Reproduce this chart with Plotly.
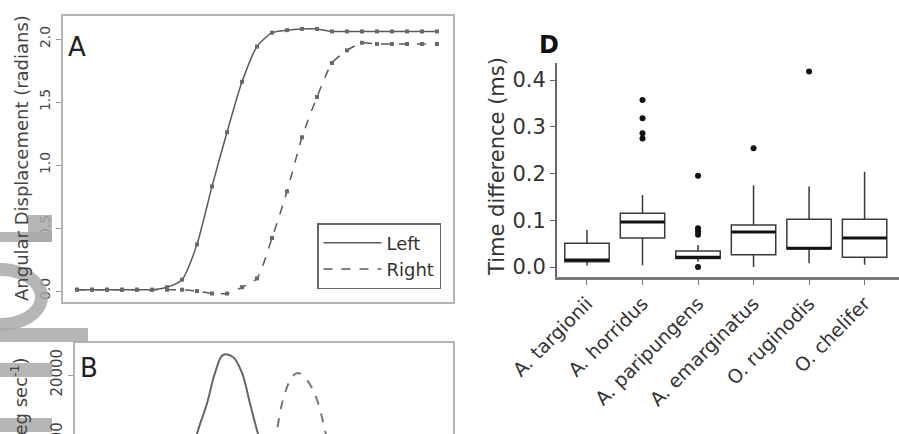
import numpy as np
import plotly.graph_objects as go

W, H = 899, 434
def PX(p): return p / W
def PY(p): return 1 - p / H

# ---------------- Panel A data (angular displacement, radians) -------------
t_a = list(range(25))
disp_left = [0.01, 0.01, 0.01, 0.01, 0.01, 0.01, 0.03, 0.09, 0.37, 0.83, 1.26, 1.66,
             1.94, 2.05, 2.07, 2.08, 2.08, 2.06, 2.06, 2.06, 2.06, 2.06, 2.06, 2.06, 2.06]
disp_right = [0.01, 0.01, 0.01, 0.01, 0.01, 0.01, 0.01, 0.01, 0.0, -0.02, -0.02, 0.03,
              0.10, 0.42, 0.79, 1.22, 1.54, 1.81, 1.91, 1.97, 1.96, 1.96, 1.96, 1.96, 1.96]
a_ticks = [0.0, 0.5, 1.0, 1.5, 2.0]
a_ticktext = ["0.0", "0.5", "1.0", "1.5", "2.0"]

# ---------------- Panel B data (angular velocity, visible part) ------------
t_b_left = [7.8, 8.07, 8.67, 9.2, 9.73, 10.4, 11.0, 11.53, 12.0, 12.3]
vel_left = [9900, 12000, 15900, 20300, 22900, 22600, 20300, 15900, 12000, 9900]
t_b_right = [13.13, 13.33, 13.73, 14.33, 14.73, 15.33, 16.0, 16.53, 16.73]
vel_right = [9900, 12000, 16400, 19700, 20300, 19300, 16400, 12000, 9900]

# ---------------- Panel D data (time difference, ms) -----------------------
species = ["A. targionii", "A. horridus", "A. paripungens", "A. emarginatus",
           "O. ruginodis", "O. chelifer"]
q1 = [0.011, 0.062, 0.018, 0.026, 0.039, 0.021]
median = [0.015, 0.096, 0.021, 0.075, 0.040, 0.062]
q3 = [0.051, 0.115, 0.034, 0.090, 0.102, 0.102]
lower_whisker = [0.003, 0.004, 0.011, 0.0, 0.008, 0.005]
upper_whisker = [0.079, 0.154, 0.047, 0.175, 0.172, 0.204]
outliers = {
    "A. horridus": [0.357, 0.318, 0.286, 0.275],
    "A. paripungens": [0.195, 0.083, 0.076, 0.069, 0.0],
    "A. emarginatus": [0.254],
    "O. ruginodis": [0.418],
}
d_ticks = [0.0, 0.1, 0.2, 0.3, 0.4]
d_ticktext = ["0.0", "0.1", "0.2", "0.3", "0.4"]

FONT = "DejaVu Sans"
LINE = "#5a5a5a"
fig = go.Figure()

# ---- Panel A traces
fig.add_trace(go.Scatter(x=t_a, y=disp_left, mode="lines+markers", showlegend=False,
                         line=dict(color=LINE, width=1.5, shape="spline", smoothing=0.6),
                         marker=dict(symbol="square", size=4, color="#6a6a6a"),
                         xaxis="x", yaxis="y"))
fig.add_trace(go.Scatter(x=t_a, y=disp_right, mode="lines+markers", showlegend=False,
                         line=dict(color=LINE, width=1.5, dash="dash", shape="spline", smoothing=0.6),
                         marker=dict(symbol="square", size=4, color="#6a6a6a"),
                         xaxis="x", yaxis="y"))
fig.add_trace(go.Scatter(x=[None], y=[None], mode="lines", name="Left",
                         line=dict(color=LINE, width=1.5), xaxis="x", yaxis="y"))
fig.add_trace(go.Scatter(x=[None], y=[None], mode="lines", name="Right",
                         line=dict(color=LINE, width=1.5, dash="dash"), xaxis="x", yaxis="y"))

# ---- Panel B traces
fig.add_trace(go.Scatter(x=t_b_left, y=vel_left, mode="lines", showlegend=False,
                         line=dict(color="#666", width=2, shape="spline"),
                         xaxis="x2", yaxis="y2"))
fig.add_trace(go.Scatter(x=t_b_right, y=vel_right, mode="lines", showlegend=False,
                         line=dict(color="#777", width=2, dash="dash", shape="spline"),
                         xaxis="x2", yaxis="y2"))

# ---- Panel D traces
pos = list(range(1, len(species) + 1))
fig.add_trace(go.Box(x=pos, q1=q1, median=median, q3=q3,
                     lowerfence=lower_whisker, upperfence=upper_whisker,
                     width=0.8, whiskerwidth=0, boxpoints=False,
                     fillcolor="white", line=dict(color="#3a3a3a", width=1.5),
                     showlegend=False, xaxis="x3", yaxis="y3"))
mx, my = [], []
for p, m in zip(pos, median):
    mx += [p - 0.4, p + 0.4, None]
    my += [m, m, None]
fig.add_trace(go.Scatter(x=mx, y=my, mode="lines", showlegend=False,
                         line=dict(color="#111", width=3), xaxis="x3", yaxis="y3"))
ox, oy = [], []
for name, vals in outliers.items():
    p = species.index(name) + 1
    ox += [p] * len(vals)
    oy += vals
fig.add_trace(go.Scatter(x=ox, y=oy, mode="markers", showlegend=False,
                         marker=dict(color="#111", size=6),
                         xaxis="x3", yaxis="y3"))

box_col = "#b5b5b5"
tickfont_small = dict(family=FONT, size=14, color="#444")
fig.update_layout(
    width=W, height=H, autosize=False,
    margin=dict(l=0, r=0, t=0, b=0, pad=0),
    paper_bgcolor="white", plot_bgcolor="white",
    font=dict(family=FONT, color="#333"),
    # Panel A
    xaxis=dict(domain=[PX(63), PX(453)], range=[(63 - 77) / 15, (453 - 77) / 15],
               showticklabels=False, ticks="", showgrid=False, zeroline=False,
               automargin=False,
               showline=True, mirror=True, linecolor=box_col, linewidth=2),
    yaxis=dict(domain=[PY(302), PY(16)], range=[(291 - 302) / 126, (291 - 16) / 126],
               tickvals=a_ticks, ticktext=a_ticktext, tickangle=-90,
               ticks="outside", ticklen=5, tickcolor="#999", tickfont=tickfont_small,
               showgrid=False, zeroline=False, automargin=False,
               showline=True, mirror=True, linecolor=box_col, linewidth=2),
    # Panel B
    xaxis2=dict(domain=[PX(75), PX(453)], range=[(75 - 77) / 15, (453 - 77) / 15],
                anchor="y2", side="top", showticklabels=False, ticks="",
                showgrid=False, zeroline=False, automargin=False,
                showline=True, linecolor=box_col, linewidth=2),
    yaxis2=dict(domain=[0, PY(343)], anchor="x2",
                range=[(513 - 434) / 6.9 * 1000, (513 - 343) / 6.9 * 1000],
                tickvals=[20000], ticktext=["20000"], tickangle=-90,
                ticks="outside", ticklen=5, tickcolor="#999",
                tickfont=dict(family=FONT, size=15, color="#444"),
                showgrid=False, zeroline=False, automargin=False,
                showline=True, mirror=True, linecolor=box_col, linewidth=2),
    # Panel D
    xaxis3=dict(domain=[PX(557), 1.0], range=[0.46, 6.62], anchor="y3",
                tickvals=pos, ticktext=species, tickangle=-45,
                ticks="outside", ticklen=5, tickcolor="#777",
                tickfont=dict(family=FONT, size=19, color="#333"),
                showgrid=False, zeroline=False, automargin=False,
                showline=True, linecolor="#7a7a7a", linewidth=3),
    yaxis3=dict(domain=[PY(277), PY(63)], range=[-(277 - 267) / 467.5, (267 - 63) / 467.5],
                anchor="x3", tickvals=d_ticks, ticktext=d_ticktext,
                ticks="outside", ticklen=5, tickcolor="#666",
                tickfont=dict(family=FONT, size=21, color="#333"),
                showgrid=False, zeroline=False, automargin=False,
                showline=True, linecolor="#666", linewidth=2),
    legend=dict(x=PX(317), y=PY(223), xanchor="left", yanchor="top",
                bgcolor="white", bordercolor="#666", borderwidth=1.5,
                font=dict(family=FONT, size=18, color="#333"), itemwidth=58,
                tracegroupgap=0),
)

ann = [
    dict(text="A", x=PX(77), y=PY(47), font=dict(size=26, color="#222")),
    dict(text="B", x=PX(89), y=PY(368), font=dict(size=26, color="#222")),
    dict(text="<b>D</b>", x=PX(549), y=PY(45), font=dict(size=24, color="#111")),
    dict(text="Angular Displacement (radians)", x=PX(21), y=PY(158), textangle=-90,
         font=dict(size=18, color="#444")),
    dict(text="Angular Velocity (deg sec<sup>-1</sup>)", x=PX(19), y=PY(482), textangle=-90,
         font=dict(size=18, color="#444")),
    dict(text="10000", x=PX(57), y=PY(446), textangle=-90,
         font=dict(size=15, color="#444")),
    dict(text="Time difference (ms)", x=PX(497), y=PY(167), textangle=-90,
         font=dict(size=21, color="#333")),
]
for a in ann:
    a.update(xref="paper", yref="paper", showarrow=False, xanchor="center", yanchor="middle")
    a["font"]["family"] = FONT
fig.update_layout(annotations=ann)

# grey overlay blemishes visible on the left edge of the reference image
grey = "#a9a9a9"
def rect(x0, y0, x1, y1):
    return dict(type="rect", xref="paper", yref="paper", x0=PX(x0), x1=PX(x1),
                y0=PY(y1), y1=PY(y0), fillcolor=grey, line=dict(width=0), layer="above",
                opacity=0.85)
ang = np.linspace(-np.pi / 2, np.pi / 2, 40)
cx, cy = 0, 297
outer = [(cx + 48 * np.cos(a), cy + 34 * np.sin(a)) for a in ang]
inner = [(cx + 35 * np.cos(a), cy + 21 * np.sin(a)) for a in ang[::-1]]
pts = outer + inner
path = "M " + " L ".join(f"{PX(x):.5f},{PY(y):.5f}" for x, y in pts) + " Z"
shapes = [
    rect(28, 215, 52, 242), rect(0, 232, 52, 242),
    rect(0, 328, 88, 342), rect(0, 363, 52, 377), rect(0, 418, 52, 432),
    dict(type="path", xref="paper", yref="paper", path=path, fillcolor=grey,
         line=dict(width=0), layer="above", opacity=0.85),
]
fig.update_layout(shapes=shapes)

fig.write_html("out.html", config={"displayModeBar": False},
               post_script="document.body.style.margin='0';document.body.style.overflow='hidden';")
